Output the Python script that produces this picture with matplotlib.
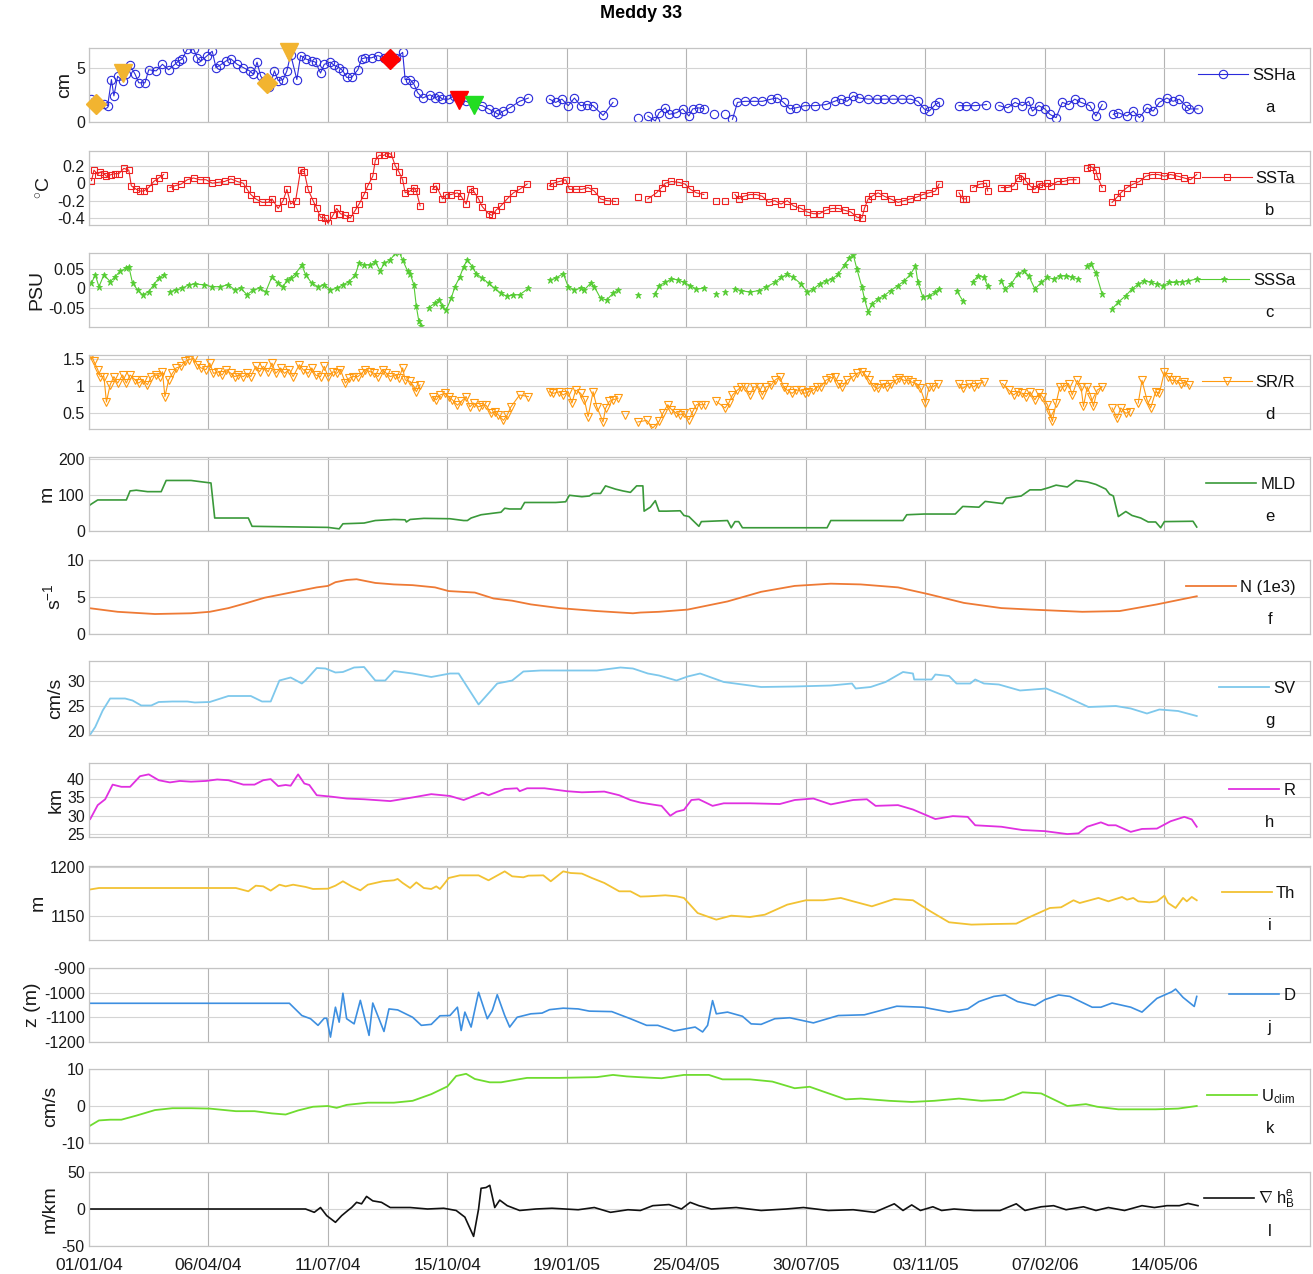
import matplotlib
matplotlib.use("Agg")
import matplotlib.pyplot as plt
import numpy as np

nan = np.nan
START = np.datetime64("2004-01-01")

# x values are days since 01/01/04

ssha_day = [2, 12, 15, 18, 20, 23, 27, 30, 33, 37, 40, 45, 48, 54, 59, 64, 69, 72, 75, 79,
            84, 87, 90, 95, 99, 102, 105, 110, 114, 119, 124, 129, 132, 135, 138, 141, 145, 149, 152, 156,
            159, 162, 167, 170, 174, 179, 182, 186, 189, 194, 197, 201, 204, 207, 211, 216, 219, 222, 227, 232,
            237, 242, 247, 252, 254, 258, 261, 264, 268, 274, 278, 281, 284, 289, 293, 298, 303, 309, 316, 321,
            326, 329, 333, 338, 346, 353, 361, 370, 375, 380, 385, 390, 395, 400, 405, 413, 421, 431, 441, 445,
            449, 455, 458, 463, 466, 472, 477, 482, 485, 490, 494, 498, 502, 506, 511, 514, 517, 521, 527, 534,
            541, 548, 553, 558, 563, 568, 575, 583, 592, 599, 604, 609, 614, 619, 626, 633, 639, 646, 653, 660,
            666, 671, 675, 680, 683, 690, 699, 705, 712, 721, 726, 731, 738, 744, 750, 755, 758, 763, 768, 772,
            777, 782, 787, 792, 797, 804, 809, 814, 818, 823, 827, 834, 839, 844, 850, 855, 860, 866, 871, 876,
            881, 884, 891]
ssha = [2.1, 1.7, 1.5, 3.9, 2.4, 4.2, 3.8, 4.4, 5.2, 4.4, 3.6, 3.6, 4.8, 4.7, 5.3, 4.8, 5.3, 5.6, 5.8, 6.7,
        6.7, 5.9, 5.6, 6.1, 6.5, 5.0, 5.2, 5.6, 5.8, 5.3, 5.0, 4.7, 4.4, 5.5, 4.2, 3.8, 3.2, 4.7, 3.8, 3.9,
        4.7, 6.2, 3.9, 6.1, 5.8, 5.6, 5.5, 4.5, 5.3, 5.5, 5.2, 5.0, 4.7, 4.1, 4.1, 4.8, 5.8, 5.9, 5.9, 6.1,
        5.9, 5.8, 5.9, 6.4, 3.9, 3.9, 3.5, 2.7, 2.2, 2.5, 2.2, 2.4, 2.1, 2.1, 2.4, 2.0, 1.9, 1.6, 1.5, 1.2,
        0.9, 0.7, 1.0, 1.3, 1.9, 2.2, nan, 2.1, 1.8, 2.1, 1.5, 2.2, 1.5, 1.6, 1.5, 0.6, 1.8, nan, 0.4, nan,
        0.55, 0.1, 0.85, 1.3, 0.7, 0.85, 1.2, 0.55, 1.2, 1.3, 1.2, nan, 0.7, nan, 0.7, nan, 0.25, 1.8, 1.9, 1.9,
        1.9, 2.1, 2.2, 1.8, 1.2, 1.3, 1.5, 1.5, 1.6, 1.9, 2.1, 1.9, 2.4, 2.2, 2.1, 2.1, 2.1, 2.1, 2.1, 2.1,
        1.9, 1.2, 1.0, 1.6, 1.8, nan, 1.5, 1.5, 1.5, 1.6, nan, 1.5, 1.3, 1.8, 1.5, 1.9, 1.0, 1.5, 1.2, 0.7,
        0.4, 1.8, 1.6, 2.1, 1.8, 1.5, 0.55, 1.6, nan, 0.7, 0.85, 0.55, 1.0, 0.4, 1.3, 1.0, 1.8, 2.2, 1.9, 2.1,
        1.5, 1.2, 1.2]

# event markers on the SSHa panel
event_day = [6, 143, 27, 161, 242, 297, 309]
event_val = [1.7, 3.6, 4.5, 6.4, 5.8, 2.0, 1.6]
event_marker = ["D", "D", "v", "v", "D", "v", "v"]
event_color = ["#f2b430", "#f2b430", "#f2b430", "#f2b430", "#ff0000", "#ff0000", "#22dd22"]

ssta_day = [2, 4, 7, 9, 12, 14, 18, 21, 24, 28, 32, 34, 38, 41, 44, 48, 52, 56, 60, 62,
            65, 69, 74, 79, 84, 89, 94, 99, 104, 109, 114, 119, 124, 127, 130, 134, 139, 144, 147, 152,
            156, 159, 162, 166, 170, 173, 176, 180, 183, 186, 190, 192, 196, 199, 202, 206, 210, 214, 217, 221,
            224, 228, 230, 233, 237, 240, 243, 246, 249, 252, 254, 258, 261, 263, 266, 271, 276, 279, 284, 287,
            291, 296, 299, 303, 306, 309, 313, 316, 321, 324, 327, 331, 336, 341, 346, 352, 361, 370, 373, 378,
            383, 386, 391, 396, 401, 406, 411, 416, 423, 432, 441, 445, 449, 456, 460, 463, 468, 474, 479, 483,
            488, 494, 499, 504, 507, 511, 515, 519, 522, 526, 531, 536, 541, 546, 551, 556, 561, 566, 572, 577,
            582, 587, 592, 597, 602, 607, 612, 617, 621, 623, 626, 629, 634, 639, 644, 650, 655, 660, 665, 670,
            675, 680, 683, 691, 699, 702, 705, 708, 710, 716, 721, 722, 728, 733, 738, 743, 746, 750, 753, 756,
            760, 763, 766, 770, 773, 778, 783, 788, 793, 798, 802, 805, 809, 810, 814, 818, 822, 826, 829, 834,
            839, 844, 849, 854, 859, 864, 869, 875, 880, 885, 890]
ssta = [0.03, 0.15, 0.1, 0.13, 0.11, 0.08, 0.1, 0.11, 0.11, 0.17, 0.15, -0.03, -0.07, -0.09, -0.09, -0.05, 0.02, 0.06, 0.1, nan,
        -0.05, -0.03, -0.01, 0.04, 0.06, 0.04, 0.04, 0.0, 0.01, 0.02, 0.05, 0.02, 0.0, -0.07, -0.13, -0.18, -0.22, -0.22, -0.18, -0.29,
        -0.2, -0.07, -0.24, -0.2, 0.15, 0.13, -0.07, -0.2, -0.29, -0.39, -0.4, -0.46, -0.37, -0.29, -0.35, -0.37, -0.4, -0.31, -0.24, -0.13,
        -0.03, 0.08, 0.26, 0.32, 0.32, 0.35, 0.33, 0.2, 0.13, 0.04, -0.11, -0.09, -0.05, -0.09, -0.26, nan, -0.07, -0.03, -0.18, -0.13,
        -0.13, -0.11, -0.15, -0.24, -0.07, -0.09, -0.18, -0.27, -0.35, -0.37, -0.31, -0.26, -0.18, -0.11, -0.07, -0.01, nan, -0.03, 0.0, 0.02,
        0.04, -0.07, -0.07, -0.07, -0.05, -0.09, -0.18, -0.2, -0.21, nan, -0.16, nan, -0.18, -0.11, -0.05, 0.0, 0.02, 0.01, -0.01, -0.07,
        -0.11, -0.13, nan, -0.2, nan, -0.2, nan, -0.13, -0.18, -0.15, -0.13, -0.13, -0.15, -0.22, -0.2, -0.24, -0.2, -0.26, -0.29, -0.33,
        -0.35, -0.35, -0.31, -0.29, -0.29, -0.31, -0.33, -0.39, -0.4, -0.29, -0.18, -0.15, -0.11, -0.15, -0.18, -0.22, -0.2, -0.18, -0.16, -0.13,
        -0.11, -0.09, -0.01, nan, -0.11, -0.18, -0.18, nan, -0.05, -0.01, 0.0, -0.09, nan, -0.05, -0.05, -0.03, 0.06, 0.08, 0.02, -0.03,
        -0.07, -0.01, -0.03, 0.0, -0.03, 0.02, 0.02, 0.04, 0.04, nan, 0.17, 0.19, 0.15, 0.08, -0.05, nan, -0.22, -0.16, -0.11, -0.05,
        -0.01, 0.02, 0.08, 0.1, 0.1, 0.08, 0.1, 0.08, 0.06, 0.04, 0.1]

sssa_day = [2, 5, 8, 12, 17, 21, 25, 30, 32, 35, 39, 43, 48, 52, 56, 60, 62, 65, 70, 75,
            80, 85, 92, 99, 105, 112, 117, 122, 127, 132, 137, 142, 147, 152, 156, 159, 162, 166, 171, 174,
            179, 184, 189, 194, 199, 204, 209, 214, 217, 221, 226, 230, 234, 237, 242, 246, 249, 252, 256, 258,
            261, 263, 265, 267, 270, 273, 278, 281, 284, 287, 291, 294, 298, 301, 304, 308, 311, 316, 321, 326,
            331, 336, 341, 346, 353, 361, 370, 375, 381, 385, 390, 395, 398, 403, 406, 411, 416, 421, 425, 433,
            441, 447, 455, 458, 463, 468, 473, 478, 483, 488, 494, 499, 504, 507, 511, 515, 519, 524, 531, 538,
            544, 551, 556, 561, 566, 572, 577, 582, 587, 592, 597, 602, 607, 611, 614, 617, 621, 623, 626, 629,
            634, 639, 644, 650, 655, 660, 664, 666, 670, 675, 680, 683, 690, 697, 702, 706, 710, 714, 719, 722,
            728, 733, 736, 741, 746, 751, 755, 760, 765, 770, 775, 780, 785, 790, 795, 798, 802, 805, 809, 814,
            818, 822, 827, 833, 838, 843, 848, 853, 858, 863, 868, 873, 878, 883, 890]
sssa = [0.013, 0.035, 0.004, 0.035, 0.017, 0.03, 0.044, 0.052, 0.056, 0.013, -0.004, -0.017, -0.009, 0.009, 0.026, 0.035, nan, -0.009, -0.004, 0.0,
        0.009, 0.011, 0.009, 0.004, 0.004, 0.009, -0.004, 0.0, -0.017, -0.004, 0.0, -0.009, 0.03, 0.013, 0.004, 0.021, 0.026, 0.038, 0.06, 0.035,
        0.013, 0.004, 0.009, -0.004, 0.0, 0.009, 0.017, 0.035, 0.065, 0.06, 0.06, 0.068, 0.044, 0.065, 0.073, 0.09, 0.094, 0.073, 0.044, 0.038,
        0.009, -0.047, -0.085, -0.098, nan, -0.05, -0.038, -0.03, -0.047, -0.056, -0.026, 0.004, 0.03, 0.056, 0.073, 0.056, 0.038, 0.026, 0.013, 0.0,
        -0.013, -0.021, -0.017, -0.017, 0.0, nan, 0.021, 0.026, 0.038, 0.004, -0.004, 0.0, -0.004, 0.013, 0.004, -0.026, -0.03, -0.013, -0.004, nan,
        -0.017, nan, -0.015, 0.007, 0.015, 0.024, 0.022, 0.015, 0.007, -0.002, 0.0, nan, -0.015, nan, -0.01, nan, -0.002, -0.006, -0.01, -0.006,
        0.003, 0.015, 0.028, 0.036, 0.028, 0.011, -0.01, -0.002, 0.011, 0.019, 0.024, 0.036, 0.061, 0.078, 0.087, 0.049, 0.003, -0.027, -0.061, -0.04,
        -0.027, -0.019, -0.006, 0.007, 0.019, 0.036, 0.057, 0.015, -0.023, -0.019, -0.01, -0.002, nan, -0.006, -0.032, nan, 0.015, 0.032, 0.028, 0.007,
        nan, 0.019, -0.002, 0.011, 0.036, 0.045, 0.032, -0.002, 0.015, 0.028, 0.024, 0.032, 0.032, 0.028, 0.024, nan, 0.057, 0.062, 0.04, -0.015,
        nan, -0.053, -0.036, -0.019, -0.002, 0.011, 0.019, 0.015, 0.011, 0.007, 0.015, 0.015, 0.017, 0.019, 0.024]

srr_day = [2, 4, 7, 9, 12, 14, 17, 20, 23, 27, 30, 33, 37, 40, 43, 47, 50, 54, 57, 59,
           61, 64, 67, 70, 74, 77, 80, 84, 87, 90, 94, 97, 100, 104, 107, 110, 114, 117, 120, 124,
           127, 130, 134, 137, 140, 144, 147, 150, 154, 157, 161, 164, 169, 172, 176, 179, 182, 186, 189, 192,
           196, 199, 202, 206, 209, 212, 216, 219, 222, 226, 229, 232, 236, 239, 242, 246, 249, 252, 254, 258,
           261, 263, 266, 271, 276, 279, 282, 286, 289, 292, 296, 299, 303, 306, 309, 313, 316, 319, 323, 326,
           329, 333, 336, 339, 346, 353, 361, 370, 373, 378, 381, 385, 388, 391, 395, 398, 401, 405, 408, 413,
           415, 418, 421, 425, 428, 431, 436, 441, 448, 453, 458, 461, 465, 468, 472, 475, 478, 482, 485, 488,
           492, 495, 499, 504, 511, 514, 517, 521, 524, 527, 531, 534, 538, 541, 544, 548, 551, 555, 558, 561,
           565, 568, 572, 575, 578, 582, 585, 588, 592, 595, 599, 602, 605, 609, 614, 617, 621, 624, 627, 631,
           634, 638, 641, 644, 648, 651, 655, 658, 661, 665, 668, 672, 675, 678, 682, 690, 699, 702, 707, 711,
           714, 719, 726, 734, 739, 743, 746, 750, 753, 756, 760, 763, 766, 770, 772, 774, 777, 780, 783, 787,
           790, 794, 797, 799, 802, 805, 807, 810, 814, 818, 822, 826, 829, 833, 836, 840, 843, 846, 850, 853,
           857, 860, 864, 867, 870, 873, 877, 880, 884]
srr = [1.57, 1.45, 1.3, 1.17, 1.17, 0.7, 1.02, 1.17, 1.05, 1.2, 1.05, 1.2, 1.11, 1.05, 1.11, 1.02, 1.17, 1.2, 1.17, 1.26,
       0.8, 1.11, 1.23, 1.33, 1.36, 1.45, 1.48, 1.51, 1.39, 1.33, 1.3, 1.42, 1.23, 1.26, 1.2, 1.3, 1.23, 1.17, 1.2, 1.17,
       1.23, 1.17, 1.36, 1.26, 1.36, 1.26, 1.42, 1.23, 1.33, 1.23, 1.3, 1.17, 1.39, 1.3, 1.23, 1.33, 1.2, 1.17, 1.36, 1.17,
       1.26, 1.23, 1.3, 1.05, 1.14, 1.17, 1.17, 1.23, 1.3, 1.26, 1.23, 1.17, 1.3, 1.23, 1.17, 1.2, 1.14, 1.33, 1.11, 1.08,
       0.99, 0.89, 1.02, nan, 0.8, 0.74, 0.83, 0.86, 0.8, 0.74, 0.64, 0.71, 0.8, 0.61, 0.68, 0.61, 0.64, 0.64, 0.49, 0.52,
       0.46, 0.36, 0.46, 0.61, 0.83, 0.8, nan, 0.89, 0.86, 0.89, 0.83, 0.89, 0.68, 0.92, 0.86, 0.74, 0.43, 0.89, 0.61, 0.33,
       0.58, 0.71, 0.74, 0.77, nan, 0.46, nan, 0.33, 0.36, 0.22, 0.34, 0.49, 0.65, 0.56, 0.49, 0.46, 0.49, 0.37, 0.52, 0.65,
       0.65, 0.65, nan, 0.71, 0.59, 0.68, 0.83, 0.92, 0.98, 0.98, 0.83, 0.98, 0.98, 0.83, 0.98, 1.01, 1.1, 1.17, 0.98, 0.92,
       0.86, 0.92, 0.92, 0.86, 0.89, 0.92, 0.98, 0.98, 1.1, 1.14, 1.17, 1.04, 0.98, 1.1, 1.17, 1.23, 1.26, 1.2, 1.1, 0.98,
       0.95, 1.04, 0.98, 1.04, 1.1, 1.14, 1.1, 1.1, 1.07, 1.04, 0.95, 0.68, 0.98, 0.98, 1.04, nan, 1.04, 0.95, 1.04, 0.98,
       1.04, 1.07, nan, 1.04, 0.92, 0.83, 0.89, 0.86, 0.8, 0.89, 0.74, 0.86, 0.8, 0.65, 0.49, 0.34, 0.68, 0.98, 0.98, 1.04,
       0.83, 1.1, 0.98, 0.62, 0.98, 0.8, 0.62, 0.92, 0.98, nan, 0.59, 0.4, 0.59, 0.49, 0.52, nan, 0.68, 1.1, 0.74, 0.59,
       0.89, 0.86, 1.26, 1.17, 1.1, 1.1, 1.04, 1.07, 1.01]

mld_day = [0, 2, 7, 30, 33, 38, 47, 58, 62, 82, 91, 98, 101, 128, 131, 171, 192, 201, 204, 221,
           230, 245, 254, 255, 258, 269, 290, 301, 304, 307, 315, 324, 331, 334, 338, 347, 350, 361, 375, 383,
           386, 396, 402, 405, 411, 415, 423, 429, 435, 440, 445, 446, 451, 455, 458, 464, 475, 478, 482, 490,
           492, 513, 516, 519, 522, 525, 593, 596, 654, 657, 671, 696, 702, 715, 720, 734, 737, 749, 756, 765,
           771, 777, 786, 793, 802, 809, 817, 820, 823, 827, 833, 838, 845, 851, 857, 861, 864, 887, 890]
mld = [70, 75, 86, 86, 111, 113, 109, 109, 140, 140, 136, 133, 36, 36, 13, 11, 10, 6, 20, 22,
       29, 32, 31, 25, 32, 35, 34, 29, 29, 36, 45, 49, 52, 63, 61, 61, 79, 79, 79, 81,
       99, 95, 97, 104, 104, 125, 116, 111, 107, 125, 125, 55, 66, 84, 55, 55, 56, 43, 40, 13,
       26, 29, 9, 26, 26, 9, 9, 29, 29, 45, 47, 47, 68, 66, 82, 76, 91, 97, 114, 114,
       120, 127, 122, 140, 136, 129, 116, 102, 97, 40, 54, 43, 36, 25, 25, 9, 26, 27, 11]

n_day = [0, 23, 53, 82, 97, 112, 127, 141, 156, 171, 183, 192, 198, 207, 215, 224, 230, 245, 260, 278,
         289, 310, 325, 340, 355, 378, 408, 437, 443, 458, 481, 513, 540, 567, 596, 620, 650, 674, 703, 733,
         757, 798, 828, 858, 890]
n_freq = [3.5, 3.0, 2.7, 2.8, 3.0, 3.5, 4.2, 4.9, 5.4, 5.9, 6.3, 6.5, 7.0, 7.3, 7.4, 7.1, 6.9, 6.7, 6.6, 6.3,
          5.8, 5.6, 4.8, 4.5, 4.0, 3.5, 3.1, 2.8, 2.9, 3.0, 3.3, 4.4, 5.7, 6.5, 6.8, 6.7, 6.3, 5.4, 4.2, 3.5,
          3.3, 3.0, 3.1, 4.0, 5.1]

sv_day = [1, 5, 11, 17, 29, 35, 42, 50, 56, 67, 79, 85, 97, 112, 130, 139, 146, 153, 162, 171,
          174, 183, 190, 198, 204, 213, 221, 230, 238, 245, 260, 275, 290, 297, 313, 328, 340, 349, 363, 408,
          427, 437, 449, 458, 472, 481, 491, 510, 540, 567, 596, 613, 616, 628, 640, 654, 662, 663, 677, 680,
          691, 697, 708, 712, 719, 731, 748, 769, 783, 803, 825, 837, 850, 860, 875, 890]
sv = [19.3, 20.8, 24.1, 26.5, 26.5, 26.1, 25.1, 25.1, 25.8, 25.9, 25.9, 25.7, 25.8, 27.0, 27.0, 25.9, 25.9, 30.1, 30.7, 29.5,
      30.1, 32.6, 32.5, 31.7, 31.8, 32.7, 32.8, 30.1, 30.1, 32.0, 31.5, 30.8, 31.5, 31.5, 25.3, 29.5, 30.1, 31.9, 32.1, 32.1,
      32.7, 32.5, 31.5, 31.1, 30.1, 30.9, 31.5, 29.8, 28.8, 28.9, 29.1, 29.5, 28.5, 28.8, 29.8, 31.8, 31.5, 30.3, 30.3, 31.3,
      31.0, 29.5, 29.5, 30.3, 29.5, 29.3, 28.1, 28.5, 27.1, 24.8, 25.0, 24.5, 23.5, 24.3, 24.0, 23.0]

r_day = [1, 7, 13, 19, 26, 33, 41, 48, 56, 65, 73, 82, 94, 103, 112, 124, 133, 140, 146, 152,
         158, 162, 168, 173, 177, 183, 195, 207, 221, 242, 260, 275, 290, 301, 316, 321, 334, 344, 346, 352,
         366, 384, 396, 414, 426, 435, 443, 454, 460, 467, 472, 478, 484, 490, 501, 510, 531, 555, 567, 582,
         596, 614, 625, 632, 650, 662, 680, 694, 706, 712, 733, 750, 768, 786, 795, 802, 813, 819, 825, 837,
         846, 858, 869, 880, 886, 890]
radius = [29.1, 32.9, 34.5, 38.5, 37.9, 37.9, 40.8, 41.3, 39.7, 39.1, 39.5, 39.3, 39.5, 39.9, 39.7, 38.5, 38.5, 39.7, 40.0, 38.1,
          38.4, 38.2, 41.3, 38.8, 38.4, 35.6, 35.2, 34.7, 34.5, 34.0, 35.0, 35.9, 35.4, 34.3, 36.3, 35.6, 37.3, 37.5, 36.7, 37.5,
          37.5, 36.7, 36.4, 36.6, 35.6, 34.3, 33.6, 33.0, 32.7, 30.0, 31.1, 31.6, 34.3, 34.5, 32.7, 33.4, 33.4, 33.2, 34.3, 34.7,
          33.1, 34.3, 34.5, 32.7, 32.9, 31.7, 29.1, 29.9, 29.7, 27.4, 27.0, 26.1, 25.8, 25.0, 25.2, 27.0, 28.2, 27.4, 27.4, 25.6,
          26.4, 26.5, 28.5, 29.7, 29.0, 27.0]

th_day = [0, 8, 53, 118, 128, 134, 140, 146, 153, 158, 164, 174, 180, 192, 198, 204, 211, 218, 224, 236,
          245, 248, 252, 258, 263, 269, 275, 279, 282, 286, 289, 298, 313, 321, 334, 340, 349, 353, 365, 371,
          381, 387, 396, 404, 414, 426, 435, 443, 450, 463, 472, 478, 489, 504, 516, 531, 543, 561, 576, 590,
          604, 614, 629, 647, 662, 676, 691, 709, 727, 745, 757, 772, 781, 791, 796, 811, 819, 830, 834, 839,
          843, 852, 858, 864, 867, 873, 879, 882, 886, 890]
th = [1176.7, 1178.4, 1178.4, 1178.4, 1175.0, 1180.8, 1180.1, 1175.7, 1181.8, 1180.1, 1181.8, 1179.5, 1177.4, 1177.7, 1180.8, 1185.3, 1180.1, 1176.0, 1181.8, 1185.3,
      1186.3, 1187.7, 1183.6, 1178.4, 1184.2, 1178.4, 1177.4, 1180.1, 1177.4, 1183.6, 1188.7, 1191.4, 1191.4, 1186.3, 1195.5, 1190.4, 1189.4, 1191.1, 1191.4, 1185.3,
      1195.5, 1193.8, 1193.2, 1188.7, 1183.6, 1175.0, 1175.0, 1169.6, 1169.9, 1170.9, 1169.9, 1168.2, 1152.7, 1145.9, 1150.0, 1148.6, 1151.0, 1161.3, 1165.8, 1165.8,
      1168.2, 1164.7, 1159.6, 1167.1, 1165.8, 1154.5, 1143.2, 1140.8, 1141.4, 1141.8, 1149.3, 1157.9, 1158.6, 1165.8, 1163.0, 1168.2, 1164.7, 1169.2, 1166.4, 1168.2,
      1164.7, 1163.7, 1164.7, 1170.5, 1163.0, 1157.9, 1168.2, 1164.7, 1169.2, 1165.8]

d_day = [0, 161, 171, 178, 184, 189, 191, 194, 198, 201, 204, 207, 213, 218, 225, 228, 237, 241, 248, 260,
         267, 275, 282, 290, 296, 299, 302, 307, 313, 320, 324, 328, 334, 338, 344, 355, 364, 370, 381, 393,
         402, 420, 435, 448, 457, 470, 487, 493, 497, 501, 504, 513, 525, 532, 540, 551, 563, 582, 602, 623,
         649, 670, 691, 706, 715, 727, 736, 746, 760, 768, 779, 788, 806, 813, 822, 837, 846, 858, 870, 873,
         879, 888, 890]
depth = [-1042, -1042, -1092, -1105, -1132, -1103, -1103, -1180, -1058, -1119, -1001, -1105, -1126, -1030, -1173, -1041, -1157, -1065, -1069, -1099,
         -1132, -1128, -1093, -1092, -1058, -1153, -1078, -1139, -997, -1105, -1072, -1007, -1092, -1139, -1099, -1085, -1082, -1068, -1062, -1065,
         -1074, -1076, -1105, -1132, -1132, -1155, -1139, -1159, -1132, -1031, -1085, -1078, -1095, -1126, -1128, -1105, -1101, -1122, -1092, -1089,
         -1054, -1058, -1078, -1065, -1035, -1014, -1008, -1035, -1051, -1027, -1008, -1014, -1058, -1058, -1041, -1058, -1078, -1022, -995, -984,
         -1018, -1055, -1014]

u_day = [0, 8, 17, 26, 38, 53, 67, 82, 97, 118, 133, 147, 158, 168, 180, 192, 199, 207, 224, 245,
         260, 275, 288, 295, 303, 310, 322, 331, 343, 352, 378, 408, 421, 432, 442, 460, 478, 498, 509, 531,
         549, 567, 579, 590, 608, 620, 643, 661, 679, 699, 717, 735, 750, 765, 786, 801, 810, 827, 857, 875,
         890]
u_clim = [-5.5, -3.9, -3.7, -3.7, -2.6, -1.1, -0.6, -0.6, -0.7, -1.4, -1.4, -2.0, -2.3, -1.2, -0.2, 0.0, -0.5, 0.3, 0.9, 0.9,
          1.4, 3.2, 5.3, 8.1, 8.7, 7.3, 6.4, 6.4, 7.1, 7.6, 7.6, 7.8, 8.4, 8.0, 7.8, 7.5, 8.4, 8.4, 7.2, 7.2,
          6.6, 4.8, 5.2, 3.9, 1.8, 2.0, 1.4, 1.1, 1.4, 2.0, 1.4, 1.7, 3.7, 3.4, 0.0, 0.5, -0.2, -0.9, -0.9, -0.7,
          0.0]

grad_day = [0, 171, 174, 181, 186, 191, 198, 203, 208, 211, 215, 219, 223, 228, 235, 242, 258, 272, 285, 295,
            302, 309, 313, 315, 319, 322, 326, 330, 336, 346, 359, 372, 393, 406, 419, 433, 443, 453, 466, 476,
            483, 490, 500, 520, 540, 560, 574, 594, 614, 631, 647, 654, 661, 668, 678, 685, 695, 711, 732, 745,
            752, 765, 775, 785, 799, 809, 819, 832, 846, 856, 866, 876, 883, 891]
grad_hb = [0, 0, 0, -4.5, 2, -9, -18, -9, -2, 2, 9, 7, 17, 11, 9, 2, 2, 0, 1, -2,
           -11, -37, 0, 28, 29, 32, 2, 12, 4.5, -2, 0, 1, -1, 2, -4.5, -1, -2, 4.5, 6, 0,
           9, 4.5, 0, 2, -2, 0, 2, -2, -1, -4.5, 7, -2, 5.5, -2, 3, -2, 0, -2, -2, 7,
           -2, 3, 4.5, -1, 3, -2, 2, -2, 4.5, 2, 4.5, 4.5, 7.5, 4.5]

TICK_DAYS = [0, 96, 192, 288, 384, 480, 576, 672, 768, 864]
TICK_LABELS = ["01/01/04", "06/04/04", "11/07/04", "15/10/04", "19/01/05",
               "25/04/05", "30/07/05", "03/11/05", "07/02/06", "14/05/06"]


def to_dates(days):
    return START + np.array(days, dtype="int64").astype("timedelta64[D]")


def style_axis(ax, ylim, yticks, ylabel, letter):
    ax.set_xlim(to_dates([0])[0], to_dates([981])[0])
    ax.set_ylim(*ylim)
    ax.set_yticks(yticks)
    ax.set_yticklabels([f"{t:g}" for t in yticks])
    ax.set_xticks(to_dates(TICK_DAYS))
    ax.set_xticklabels([])
    ax.grid(axis="y", color="#d4d4d4", linewidth=0.8)
    ax.grid(axis="x", color="#b4b4b4", linewidth=0.8)
    ax.set_axisbelow(True)
    ax.tick_params(axis="y", length=0, labelsize=11.5, labelcolor="#1a1a1a", pad=3)
    ax.tick_params(axis="x", length=0, labelsize=12.5, labelcolor="#1a1a1a", pad=9)
    for s in ax.spines.values():
        s.set_color("#c4c4c4")
        s.set_linewidth(0.9)
    if ylabel:
        ax.set_ylabel(ylabel, fontsize=14, color="#1a1a1a", labelpad=2)
    ax.text(0.967, 0.2, letter, transform=ax.transAxes, ha="center", va="center",
            fontsize=12, color="#111111")
    ax.legend(loc="center right", bbox_to_anchor=(0.988, 0.63), frameon=False,
              borderaxespad=0, borderpad=0, handlelength=3.0, handletextpad=0.25,
              numpoints=1, fontsize=12, labelcolor="#111111")


def main():
    plt.rcParams["font.family"] = ["Liberation Sans", "DejaVu Sans"]
    plt.rcParams["mathtext.fontset"] = "custom"
    plt.rcParams["mathtext.rm"] = "Liberation Sans"
    plt.rcParams["mathtext.it"] = "Liberation Sans:italic"

    fig = plt.figure(figsize=(13.13, 12.74), dpi=100)
    W, H = 1313.0, 1274.0
    left, right = 89, 1310
    tops = [48, 151, 253, 355, 457, 560, 661, 763, 866, 968, 1069, 1172]
    height = 74
    axes = []
    for t in tops:
        axes.append(fig.add_axes([left / W, 1 - (t + height) / H, (right - left) / W, height / H]))

    lw = 0.8
    ax = axes[0]
    ax.plot(to_dates(ssha_day), ssha, "-o", color="#2b2bdb", lw=lw, ms=6, mfc="none", mew=0.8, label="SSHa")
    for d, v, m, c in zip(event_day, event_val, event_marker, event_color):
        ax.plot(to_dates([d]), [v], m, color=c, ms=13 if m == "v" else 10.5, mec=c, zorder=5, clip_on=False)
    style_axis(ax, (0, 6.8), [0, 5], "cm", "a")

    ax = axes[1]
    ax.plot(to_dates(ssta_day), ssta, "-s", color="#ee2222", lw=lw, ms=5, mfc="none", mew=0.8, label="SSTa")
    style_axis(ax, (-0.48, 0.37), [-0.4, -0.2, 0, 0.2], r"$^{\circ}$C", "b")

    ax = axes[2]
    ax.plot(to_dates(sssa_day), sssa, "-*", color="#55cc33", lw=lw, ms=4.5, mew=0.6, label="SSSa")
    style_axis(ax, (-0.1, 0.091), [-0.05, 0, 0.05], "PSU", "c")

    ax = axes[3]
    ax.plot(to_dates(srr_day), srr, "-v", color="#ff9a10", lw=lw, ms=6, mfc="none", mew=0.8, label="SR/R")
    style_axis(ax, (0.2, 1.57), [0.5, 1, 1.5], None, "d")

    ax = axes[4]
    ax.plot(to_dates(mld_day), mld, color="#3a993a", lw=1.2, label="MLD")
    style_axis(ax, (0, 205), [0, 100, 200], "m", "e")

    ax = axes[5]
    ax.plot(to_dates(n_day), n_freq, color="#ee7a35", lw=1.3, label="N (1e3)")
    style_axis(ax, (0, 10), [0, 5, 10], r"s$^{-1}$", "f")

    ax = axes[6]
    ax.plot(to_dates(sv_day), sv, color="#7ec8ec", lw=1.3, label="SV")
    style_axis(ax, (19.2, 34), [20, 25, 30], "cm/s", "g")

    ax = axes[7]
    ax.plot(to_dates(r_day), radius, color="#e030e0", lw=1.3, label="R")
    style_axis(ax, (24.2, 44.4), [25, 30, 35, 40], "km", "h")

    ax = axes[8]
    ax.plot(to_dates(th_day), th, color="#f2c233", lw=1.3, label="Th")
    style_axis(ax, (1125, 1201), [1150, 1200], "m", "i")

    ax = axes[9]
    ax.plot(to_dates(d_day), depth, color="#3d8fe0", lw=1.2, label="D")
    style_axis(ax, (-1200, -898), [-1200, -1100, -1000, -900], "z (m)", "j")

    ax = axes[10]
    ax.plot(to_dates(u_day), u_clim, color="#6fdc2f", lw=1.3, label=r"U$_{\mathrm{clim}}$")
    style_axis(ax, (-10, 10), [-10, 0, 10], "cm/s", "k")

    ax = axes[11]
    ax.plot(to_dates(grad_day), grad_hb, color="#111111", lw=1.2, label=r"$\nabla$ h$_{\mathrm{B}}^{\mathrm{e}}$")
    style_axis(ax, (-50, 50), [-50, 0, 50], "m/km", "l")
    ax.set_xticklabels(TICK_LABELS)

    fig.text(0.488, 1 - 14 / H, "Meddy 33", ha="center", va="center", fontsize=13, fontweight="bold")

    fig.savefig("out.png", dpi=100)
    plt.close(fig)


if __name__ == "__main__":
    main()
